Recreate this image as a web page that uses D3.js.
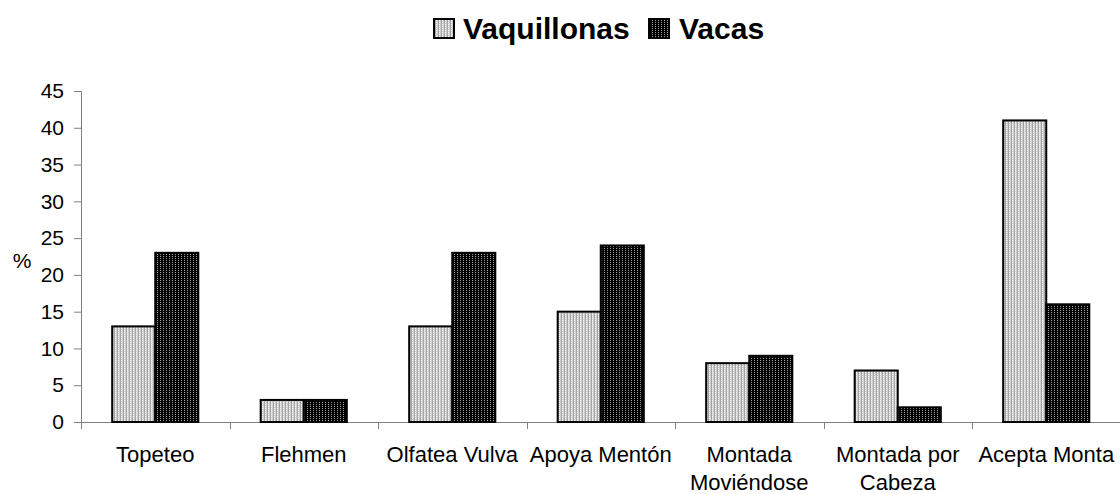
<!DOCTYPE html>
<html>
<head>
<meta charset="utf-8">
<script src="https://cdn.jsdelivr.net/npm/d3@7"></script>
<style>
  body { margin: 0; background: #fff; }
  text { font-family: "Liberation Sans", Arial, sans-serif; }
</style>
</head>
<body>
<div id="chart"></div>
<script>
// data
var categories = ["Topeteo", "Flehmen", "Olfatea Vulva", "Apoya Mentón",
                  "Montada Moviéndose", "Montada por Cabeza", "Acepta Monta"];
// how each category label is broken into lines
var categoryLines = [["Topeteo"], ["Flehmen"], ["Olfatea Vulva"], ["Apoya Mentón"],
                     ["Montada", "Moviéndose"], ["Montada por", "Cabeza"], ["Acepta Monta"]];
var seriesNames = ["Vaquillonas", "Vacas"];
var vaquillonas = [13, 3, 13, 15, 8, 7, 41];
var vacas = [23, 3, 23, 24, 9, 2, 16];
var yTicks = [0, 5, 10, 15, 20, 25, 30, 35, 40, 45];

var width = 1120, height = 494;
var margin = {top: 91, left: 81, bottom: 72};

var svg = d3.select("#chart")
  .append("svg")
    .attr("width", width)
    .attr("height", height);

// fill patterns like the old spreadsheet shading
var defs = svg.append("defs");
var light = defs.append("pattern")
    .attr("id", "light")
    .attr("patternUnits", "userSpaceOnUse")
    .attr("width", 3).attr("height", 2);
light.append("rect").attr("width", 3).attr("height", 2).attr("fill", "#cfcfcf");
light.append("rect").attr("width", 1).attr("height", 2).attr("fill", "#a4a4a4");
light.append("rect").attr("x", 1).attr("width", 1).attr("height", 1).attr("fill", "#ffffff");

var dark = defs.append("pattern")
    .attr("id", "dark")
    .attr("patternUnits", "userSpaceOnUse")
    .attr("width", 3).attr("height", 2);
dark.append("rect").attr("width", 3).attr("height", 2).attr("fill", "#000000");
dark.append("rect").attr("x", 1).attr("width", 1).attr("height", 1).attr("fill", "#9a9a9a");

var fills = ["url(#light)", "url(#dark)"];

// scales
var x0 = d3.scaleBand()
  .domain(categories)
  .range([margin.left, 1120.5])
  .paddingInner(0.42)
  .paddingOuter(0.21);

var x1 = d3.scaleBand()
  .domain(seriesNames)
  .range([0, x0.bandwidth()]);

var y = d3.scaleLinear()
  .domain([0, 45])
  .range([height - margin.bottom, margin.top]);

// Y axis
var yAxis = svg.append("g")
  .attr("transform", "translate(" + margin.left + ",0)")
  .call(d3.axisLeft(y).tickValues(yTicks).tickSize(7).tickPadding(10));
yAxis.select(".domain").attr("stroke", "#808080");
yAxis.selectAll(".tick line").attr("stroke", "#808080");
yAxis.selectAll(".tick text")
  .attr("fill", "#000")
  .style("font-size", "21px");

svg.append("text")
  .attr("x", 22)
  .attr("y", y(22) + 8)
  .attr("text-anchor", "middle")
  .style("font-size", "21px")
  .text("%");

// X axis: baseline plus ticks between categories
var xAxis = svg.append("g");
xAxis.append("line")
  .attr("x1", margin.left).attr("x2", width)
  .attr("y1", y(0) + 0.5).attr("y2", y(0) + 0.5)
  .attr("stroke", "#808080");
xAxis.selectAll(".sep")
  .data(categories)
  .enter().append("line")
    .attr("class", "sep")
    .attr("x1", function(d) { return Math.round(x0(d) - x0.step() * x0.paddingInner() / 2) + 0.5; })
    .attr("x2", function(d) { return Math.round(x0(d) - x0.step() * x0.paddingInner() / 2) + 0.5; })
    .attr("y1", y(0)).attr("y2", y(0) + 7)
    .attr("stroke", "#808080");

var labels = xAxis.selectAll(".cat")
  .data(categories)
  .enter().append("text")
    .attr("class", "cat")
    .attr("text-anchor", "middle")
    .attr("x", function(d) { return x0(d) + x0.bandwidth() / 2; })
    .attr("y", 462)
    .style("font-size", "22px");
labels.selectAll("tspan")
  .data(function(d, i) { return categoryLines[i]; })
  .enter().append("tspan")
    .attr("x", function() { var p = d3.select(this.parentNode); return p.attr("x"); })
    .attr("dy", function(d, i) { return i === 0 ? 0 : 28; })
    .text(function(d) { return d; });

// bars
var series = [vaquillonas, vacas];
series.forEach(function(values, s) {
  svg.append("g")
    .selectAll("rect")
    .data(categories)
    .enter().append("rect")
      .attr("x", function(d) { return x0(d) + x1(seriesNames[s]); })
      .attr("y", function(d, i) { return y(values[i]); })
      .attr("width", x1.bandwidth())
      .attr("height", function(d, i) { return y(0) - y(values[i]); })
      .attr("fill", fills[s])
      .attr("stroke", "#000")
      .attr("stroke-width", 2);
});

// legend
var legend = svg.append("g");
var legendX = [434, 649];
var legendTextX = [463, 679];
seriesNames.forEach(function(name, s) {
  legend.append("rect")
    .attr("x", legendX[s]).attr("y", 19)
    .attr("width", 20).attr("height", 19)
    .attr("fill", fills[s])
    .attr("stroke", "#000")
    .attr("stroke-width", 2);
  legend.append("text")
    .attr("x", legendTextX[s]).attr("y", 39)
    .style("font-size", "30px")
    .style("font-weight", "bold")
    .text(name);
});
</script>
</body>
</html>
